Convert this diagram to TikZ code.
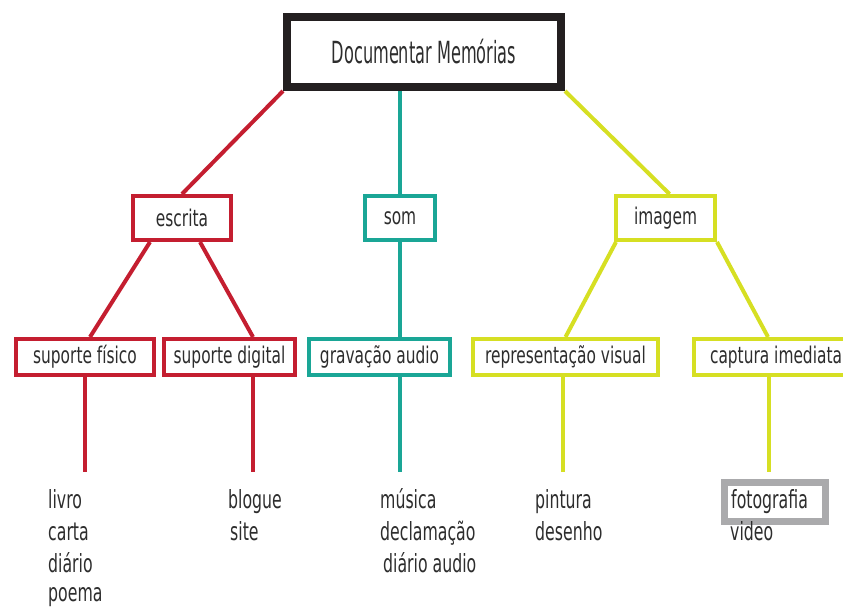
\documentclass[tikz,border=0pt]{standalone}
\usepackage{fontspec}
\setmainfont{DejaVu Sans}
\newfontfamily\topfont{DejaVu Sans}[FakeStretch=0.53]
\newfontfamily\boxfont{DejaVu Sans}[FakeStretch=0.67]
\newfontfamily\leaffont{DejaVu Sans}[FakeStretch=0.63]
\usepackage{tikz}
\usetikzlibrary{backgrounds}
\definecolor{escritacol}{RGB}{196,30,48}
\definecolor{somcol}{RGB}{26,166,150}
\definecolor{imagemcol}{RGB}{214,223,35}
\definecolor{topcol}{RGB}{35,31,32}
\definecolor{fotocol}{RGB}{170,170,172}
\definecolor{textcol}{RGB}{45,45,45}
\tikzset{ramo/.style={draw, fill=white, line width=4pt, inner sep=0pt, text=textcol, font=\boxfont\fontsize{23}{27}\selectfont},
         folha/.style={anchor=base west, inner sep=0pt, text=textcol, font=\leaffont\fontsize{25}{29}\selectfont},
         liga/.style={line width=4pt}}

\begin{document}
\begin{tikzpicture}[x=1pt, y=-1pt]
  \useasboundingbox (0, 0) rectangle (843, 606);
  % topo
  \node[draw=topcol, line width=8pt, minimum width=274pt, minimum height=70pt, inner sep=0pt, text=textcol, font=\topfont\fontsize{30.5}{34}\selectfont] (doc) at (424, 52) {Documentar Memórias};
  % primeiro nivel
  \node[ramo, draw=escritacol, minimum width=98pt, minimum height=44pt] (escrita) at (182, 218) {escrita};
  \node[ramo, draw=somcol, minimum width=70pt, minimum height=44pt] (som) at (400, 218) {som};
  \node[ramo, draw=imagemcol, minimum width=99pt, minimum height=44pt] (imagem) at (665.5, 218) {imagem};
  % segundo nivel
  \node[ramo, draw=escritacol, minimum width=138pt, minimum height=36pt] (fisico) at (85, 357) {suporte físico};
  \node[ramo, draw=escritacol, minimum width=131pt, minimum height=36pt] (digital) at (229.5, 357) {suporte digital};
  \node[ramo, draw=somcol, minimum width=141pt, minimum height=36pt] (gravacao) at (379.5, 357) {gravação audio};
  \node[ramo, draw=imagemcol, minimum width=185pt, minimum height=36pt] (visual) at (565.5, 357) {representação visual};
  \node[ramo, draw=imagemcol, minimum width=164pt, minimum height=36pt] (captura) at (776, 357) {captura imediata};
  % ligacoes
  \begin{scope}[on background layer]
  \draw[liga, escritacol] (doc.south west) -- (escrita.north);
  \draw[liga, somcol] (som.north |- doc.south) -- (som.north);
  \draw[liga, imagemcol] (doc.south east) -- ([xshift=4pt]imagem.north);
  \draw[liga, escritacol] ([xshift=19pt]escrita.south west) -- ([xshift=5pt]fisico.north);
  \draw[liga, escritacol] ([xshift=-33pt]escrita.south east) -- ([xshift=23.5pt]digital.north);
  \draw[liga, somcol] (som.south) -- (som.south |- gravacao.north);
  \draw[liga, imagemcol] ([xshift=2pt]imagem.south west) -- (visual.north);
  \draw[liga, imagemcol] (imagem.south east) -- ([xshift=-8pt]captura.north);
  \end{scope}
  % descidas
  \coordinate (fimfisico) at (85, 472);
  \coordinate (fimdigital) at (253, 472);
  \coordinate (fimgravacao) at (400, 472);
  \coordinate (fimvisual) at (563, 472);
  \coordinate (fimcaptura) at (769, 472);
  \draw[liga, escritacol] (fisico.south) -- (fimfisico);
  \draw[liga, escritacol] (digital.south -| fimdigital) -- (fimdigital);
  \draw[liga, somcol] (gravacao.south -| fimgravacao) -- (fimgravacao);
  \draw[liga, imagemcol] (visual.south -| fimvisual) -- (fimvisual);
  \draw[liga, imagemcol] (captura.south -| fimcaptura) -- (fimcaptura);
  % folhas
  \node[folha] (livro) at (48, 508) {livro};
  \node[folha] (carta) at (48, 540) {carta};
  \node[folha] (diario) at (48, 572) {diário};
  \node[folha] (poema) at (48, 601) {poema};
  \node[folha] (blogue) at (228, 508) {blogue};
  \node[folha] (site) at (230, 540) {site};
  \node[folha] (musica) at (380, 508) {música};
  \node[folha] (declamacao) at (380, 540) {declamação};
  \node[folha] (diarioaudio) at (383, 572) {diário audio};
  \node[folha] (pintura) at (535, 508) {pintura};
  \node[folha] (desenho) at (535, 540) {desenho};
  \node[draw=fotocol, line width=7pt, minimum width=101pt, minimum height=39pt, inner sep=0pt] (fotobox) at (775, 502) {};
  \node[folha] (fotografia) at (731, 508) {fotografia};
  \node[folha] (video) at (730, 540) {video};
\end{tikzpicture}
\end{document}
